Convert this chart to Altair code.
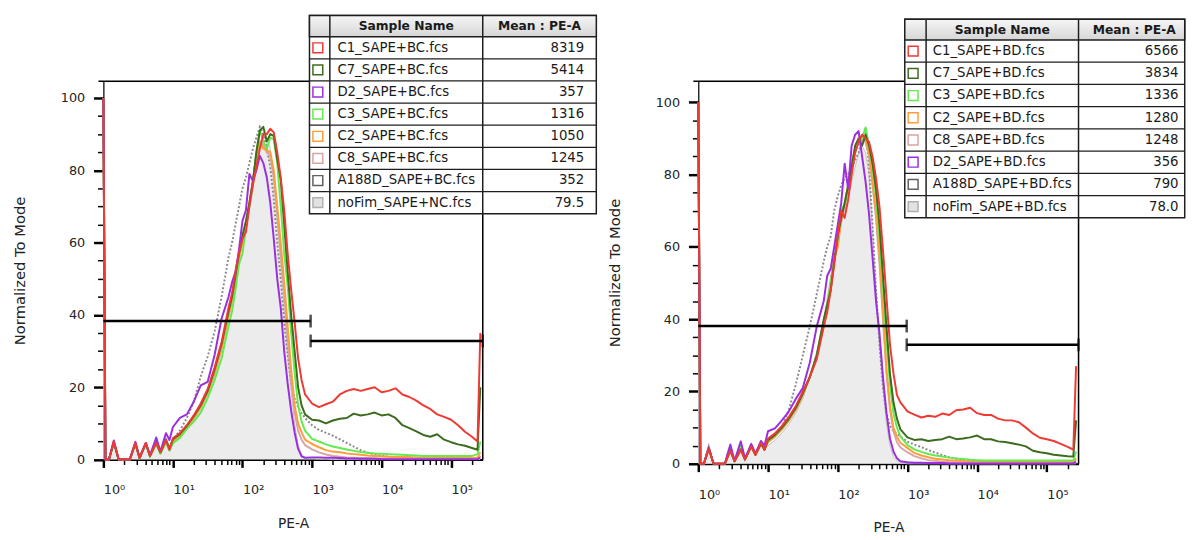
import math
import altair as alt
import pandas as pd

FONT = "DejaVu Sans"

# ---------------- data ----------------
# x positions as log10(PE-A)
GRID = [0.0, 0.03, 0.08, 0.15, 0.22, 0.38, 0.46, 0.52, 0.61, 0.67, 0.76, 0.82, 0.9, 0.95,
        1.0, 1.1, 1.2, 1.3, 1.4, 1.5, 1.6, 1.7, 1.8,
        1.85, 1.9, 1.95, 2.0, 2.05, 2.1, 2.15, 2.2, 2.25, 2.3, 2.35, 2.4, 2.45, 2.5,
        2.55, 2.6, 2.65, 2.7, 2.75, 2.8, 2.85, 2.9,
        3.0, 3.1, 3.2, 3.3, 3.4, 3.5, 3.6, 3.7, 3.8, 3.9, 4.0, 4.1, 4.2, 4.3, 4.4,
        4.5, 4.6, 4.7, 4.8, 4.9, 5.0, 5.1, 5.2, 5.3,
        5.38, 5.42]

# ----- left panel (+BC) -----
BC_C1 = [100, 0, 0, 5.0, 0, 0, 4.6, 0.4, 4.6, 1.0, 4.6, 2.0, 5.4, 2.7,
         5.9, 7.3, 9.5, 12.2, 15.5, 19.5, 25.5, 32.5, 42,
         46, 52, 57, 61, 63, 70, 76, 81, 86, 90, 90, 91.5, 90.5, 85, 78, 69, 57, 47, 38, 28, 22, 18,
         15.5, 14.5, 15.3, 16, 18, 19, 19.5, 19, 19.5, 20, 18.6, 19, 19.7, 18, 17.3, 16.3, 15, 14, 12.5, 11.8, 11, 9.5, 7.7, 6.3,
         5, 35]
BC_C7 = [100, 0, 0, 4.8, 0, 0, 4.5, 0.4, 4.5, 1.0, 4.8, 2.0, 5.5, 3.0,
         5.6, 7, 9.3, 12, 15, 19, 25, 32, 41,
         45, 51, 57, 62, 66, 71, 77, 85, 91, 92, 88, 90, 89.5, 83, 77.5, 65, 52, 40, 30, 20, 15, 12.5,
         11, 10.8, 10, 10.8, 11.3, 11.5, 12.7, 12.2, 12.5, 13, 12.2, 12.5, 11.5, 9.5, 8.7, 7.8, 6.8, 6.3, 7, 5.5, 4.8, 4.2, 3.8, 3.2,
         2.7, 20]
BC_D2 = [100, 0, 0, 5.3, 0, 0, 4.9, 0.5, 4.6, 1.2, 6.1, 2.2, 7.3, 5.4,
         9, 11.5, 12.5, 16, 20.5, 21.5, 29, 39, 45,
         49, 52, 58, 66, 69, 79, 77, 80, 84, 82, 78, 71, 61, 50, 42, 30, 21, 13.5, 7.5, 3, 0.9, 0.5,
         0.6, 0.6, 0.5, 0.5, 0.4, 0.3, 0.3, 0.2, 0.2, 0.2, 0.1, 0.1, 0.1, 0.1, 0.1, 0.1, 0.1, 0.1, 0.1, 0.1, 0.1, 0.1, 0.1, 0.1,
         0.1, 0.5]
BC_C3 = [100, 0, 0, 4.5, 0, 0, 4.3, 0.3, 4.3, 0.8, 4.3, 1.6, 4.8, 2.5,
         4.5, 6, 8.5, 10.5, 13, 17, 22, 28, 37,
         41, 47, 54, 57, 64, 70, 76, 85, 91, 88, 86, 89, 88.6, 82, 70, 57, 48, 35, 24, 15, 10.5, 8,
         5.7, 5, 4.2, 3.6, 3.2, 2.8, 2.4, 2.1, 1.9, 1.7, 1.6, 1.5, 1.4, 1.3, 1.2, 1.1, 1.0, 1.0, 1.0, 1.0, 1.0, 1.0, 1.0, 1.0,
         1.5, 5]
BC_C2 = [100, 0, 0, 4.7, 0, 0, 4.4, 0.4, 4.4, 0.9, 4.4, 1.8, 5.0, 2.6,
         5, 6.5, 9, 11.5, 14.5, 18.5, 24, 31, 40,
         44, 50, 56, 60, 65, 71, 77, 84, 88, 86, 85.5, 85, 80, 70, 60, 49, 37, 25, 15, 10, 7.5, 5.5,
         4.3, 3.4, 2.6, 2.2, 2.0, 1.7, 1.5, 1.3, 1.1, 1.0, 0.9, 0.8, 0.7, 0.7, 0.7, 0.6, 0.6, 0.5, 0.5, 0.5, 0.5, 0.5, 0.5, 0.5,
         0.5, 2]
BC_C8 = [100, 0, 0, 4.7, 0, 0, 4.4, 0.4, 4.4, 0.9, 4.5, 1.8, 5.0, 2.6,
         5, 6.5, 9, 11.5, 14.5, 18.5, 24, 31, 40,
         44, 50, 56, 60, 65, 71, 77, 84, 88, 87, 85, 84, 78, 68, 57, 46, 34, 22, 13, 8, 5.5, 4,
         2.8, 2.0, 1.4, 1.0, 0.8, 0.6, 0.5, 0.4, 0.4, 0.3, 0.3, 0.3, 0.3, 0.3, 0.3, 0.3, 0.3, 0.3, 0.3, 0.3, 0.3, 0.3, 0.3, 0.3,
         0.3, 1]
BC_A188D = [100, 0, 0, 5.0, 0, 0, 4.6, 0.4, 4.6, 1.0, 4.8, 2.0, 5.5, 3.0,
            5.5, 8, 11.5, 16, 23, 28.5, 35.5, 45, 56,
            60, 65, 70, 75, 78, 82, 86, 89, 92, 90, 86, 81, 72, 60, 50, 38, 29, 21, 17, 14.5, 12.8, 11.5,
            9.5, 8.2, 7.4, 6.6, 5.6, 4.6, 3.6, 2.6, 1.9, 1.4, 1.1, 0.8, 0.6, 0.5, 0.4, 0.4, 0.4, 0.3, 0.3, 0.3, 0.3, 0.3, 0.3, 0.3,
            0.3, 1]
BC_NOFIM = [100, 0, 0, 4.5, 0, 0, 4.2, 0.3, 4.2, 0.8, 4.3, 1.6, 4.8, 2.5,
            5, 6.5, 8.5, 11, 14, 18, 23, 30, 40,
            45, 50, 55, 60, 65, 71, 77, 82, 86, 89, 89, 86, 78, 66, 54, 42, 30, 19, 10, 4, 1.5, 0.6,
            0.3, 0.2, 0.1, 0, 0, 0, 0, 0, 0, 0, 0, 0, 0, 0, 0, 0, 0, 0, 0, 0, 0, 0, 0, 0,
            0, 0]

# ----- right panel (+BD) -----
BD_C1 = [100, 0, 0, 4.2, 0, 0, 3.6, 0.7, 3.9, 1.2, 4.8, 2.5, 5.7, 3.9,
         7, 8.4, 10.5, 13, 16, 20, 24, 29, 38,
         42, 48, 55, 63, 70, 68, 73, 80, 86, 89, 91, 90, 89, 85, 79, 71, 59, 46, 33, 25, 19, 17,
         14.5, 13.6, 12.8, 13.3, 13, 13.9, 13.5, 14.8, 15, 15.5, 14, 13.5, 13.5, 12.5, 12, 12, 11.5, 10, 8.4, 7.2, 6.8, 6.3, 5.5, 4.7,
         3.9, 27]
BD_C7 = [100, 0, 0, 4.2, 0, 0, 3.8, 0.7, 4.0, 1.2, 4.8, 2.5, 5.5, 3.9,
         6.5, 8, 10, 12.5, 15.5, 19.5, 24, 30, 40,
         44, 48, 56, 63, 68, 72, 77, 82, 88, 90, 88, 91, 88, 83, 76, 66, 52, 38, 25, 17, 12.5, 9.5,
         7.3, 6.6, 6.8, 6.3, 6.6, 6.8, 7.5, 6.8, 7.0, 7.3, 7.8, 6.8, 6.8, 6.2, 6.0, 5.7, 5.3, 4.8, 3.6, 3.2, 2.9, 2.5, 2.3, 2.1,
         2.0, 12]
BD_C3 = [100, 0, 0, 4.2, 0, 0, 4.8, 0.7, 5.0, 1.2, 4.8, 2.5, 5.7, 3.9,
         6.5, 8, 10, 12.5, 15.5, 19.5, 24, 30, 39,
         44, 50, 56, 62, 70, 72, 76, 82, 87, 89, 90, 93, 88, 82, 74, 63, 49, 34, 22, 14, 10, 7.5,
         5.2, 4.0, 3.3, 2.7, 2.3, 2.0, 1.7, 1.5, 1.3, 1.1, 1.0, 0.9, 0.9, 0.9, 0.9, 0.9, 0.9, 0.9, 0.9, 0.9, 0.9, 0.9, 0.9, 0.9,
         0.9, 3.4]
BD_C2 = [100, 0, 0, 4.2, 0, 0, 3.8, 0.7, 3.9, 1.2, 4.8, 2.5, 5.7, 3.9,
         6, 7.5, 9.5, 12, 15, 19, 24, 30, 38,
         43, 50, 57, 60, 68, 72, 77, 83, 87, 89, 91, 90, 86, 78, 70, 58, 42, 26, 16, 10, 7.5, 5.8,
         4.4, 3.0, 2.3, 1.8, 1.4, 1.2, 1.0, 0.9, 0.8, 0.6, 0.6, 0.5, 0.5, 0.5, 0.5, 0.5, 0.5, 0.5, 0.5, 0.5, 0.5, 0.5, 0.5, 0.5,
         0.5, 1.5]
BD_C8 = [100, 0, 0, 4.2, 0, 0, 3.8, 0.7, 3.9, 1.2, 4.8, 2.5, 5.7, 3.9,
         6, 7.5, 9.5, 12, 15, 19, 24, 30, 38,
         43, 50, 57, 60, 67, 72, 77, 83, 87, 89, 90, 89, 85, 77, 68, 55, 40, 25, 15, 9, 6, 4.5,
         3.2, 2.1, 1.5, 1.0, 0.8, 0.6, 0.4, 0.4, 0.4, 0.4, 0.4, 0.4, 0.4, 0.4, 0.4, 0.4, 0.4, 0.4, 0.4, 0.4, 0.4, 0.4, 0.4, 0.4,
         0.4, 1]
BD_D2 = [100, 0, 0, 4.5, 0, 0, 5.3, 0.8, 6.2, 1.5, 5.5, 2.8, 6.3, 5.0,
         9, 9.8, 12, 14.5, 18, 21, 28, 38, 45,
         52, 54, 60, 66, 72, 83, 76, 88, 91, 92, 85, 78, 69, 57, 45, 36, 24, 14, 7, 3.4, 1.5, 0.7,
         0.4, 0.3, 0.3, 0.2, 0.2, 0.2, 0.1, 0.1, 0.1, 0.1, 0.1, 0.1, 0.1, 0.1, 0.1, 0.1, 0.1, 0.1, 0.1, 0.1, 0.1, 0.1, 0.1, 0.1,
         0.1, 0.5]
BD_A188D = [100, 0, 0, 4.8, 0, 0, 4.5, 0.8, 5.0, 1.3, 5.3, 2.8, 6.0, 4.2,
            6, 8, 10, 15, 22, 30, 38, 47, 56,
            60, 63, 70, 74, 77, 79, 80, 82, 84, 86, 90, 93, 82, 66, 48, 33, 21, 14, 10.5, 9, 8.2, 7.6,
            6.1, 5.3, 4.6, 3.8, 3.1, 2.4, 1.8, 1.4, 1.0, 0.8, 0.6, 0.5, 0.4, 0.4, 0.4, 0.4, 0.4, 0.4, 0.4, 0.4, 0.4, 0.4, 0.4, 0.4,
            0.4, 1]
BD_NOFIM = [100, 0, 0, 4.0, 0, 0, 3.6, 0.6, 3.8, 1.1, 4.6, 2.4, 5.4, 3.8,
            5, 6.5, 8.5, 11, 14, 18, 24, 31, 40,
            46, 52, 57, 62, 66, 70, 74, 78, 82, 86, 88, 86, 80, 64, 48, 33, 21, 11, 5, 2, 0.8, 0.3,
            0, 0, 0, 0, 0, 0, 0, 0, 0, 0, 0, 0, 0, 0, 0, 0, 0, 0, 0, 0, 0, 0, 0, 0,
            0, 0]

# legend tables
BC_KEYS = ["C1", "C7", "D2", "C3", "C2", "C8", "A188D", "noFim"]
BC_SAMPLES = ["C1_SAPE+BC.fcs", "C7_SAPE+BC.fcs", "D2_SAPE+BC.fcs", "C3_SAPE+BC.fcs",
              "C2_SAPE+BC.fcs", "C8_SAPE+BC.fcs", "A188D_SAPE+BC.fcs", "noFim_SAPE+NC.fcs"]
BC_MEANS = ["8319", "5414", "357", "1316", "1050", "1245", "352", "79.5"]

BD_KEYS = ["C1", "C7", "C3", "C2", "C8", "D2", "A188D", "noFim"]
BD_SAMPLES = ["C1_SAPE+BD.fcs", "C7_SAPE+BD.fcs", "C3_SAPE+BD.fcs", "C2_SAPE+BD.fcs",
              "C8_SAPE+BD.fcs", "D2_SAPE+BD.fcs", "A188D_SAPE+BD.fcs", "noFim_SAPE+BD.fcs"]
BD_MEANS = ["6566", "3834", "1336", "1280", "1248", "356", "790", "78.0"]

# gates (log10 start, log10 end, level)
BC_GATE_START = [0.0, 2.98]
BC_GATE_END = [2.98, 5.455]
BC_GATE_LEVEL = [38.3, 32.8]
BD_GATE_START = [0.0, 2.99]
BD_GATE_END = [2.99, 5.455]
BD_GATE_LEVEL = [38.1, 32.9]

# ---------------- styles ----------------
LINE_COLORS = {"C1": "#ee3a32", "C7": "#3c6b1e", "D2": "#9a2ee0", "C3": "#62ea4e",
               "C2": "#ff9d3c", "C8": "#d8a4a4", "A188D": "#8a8a8a", "noFim": "#c4c4c4"}
SWATCH_STROKE = dict(LINE_COLORS, A188D="#606060", noFim="#b0b0b0")
SWATCH_FILL = {k: "white" for k in LINE_COLORS}
SWATCH_FILL["noFim"] = "#e2e2e2"
DRAW_ORDER = ["noFim", "A188D", "C8", "C2", "C3", "C7", "D2", "C1"]

XMAX = 5.455
PX_PER_UNIT = 3.677

for nm, arr in list(globals().items()):
    if (nm.startswith("BC_") or nm.startswith("BD_")) and isinstance(arr, list) and len(arr) > 20:
        if len(arr) != len(GRID):
            raise SystemExit(f"{nm} has {len(arr)} values, expected {len(GRID)}")


def x_axis(W):
    major = "abs(datum.value - round(datum.value)) < 0.001"
    ticks = []
    for d in range(6):
        for k in range(1, 10):
            t = d + math.log10(k)
            if t <= XMAX:
                ticks.append(round(t, 5))
    return alt.Axis(
        values=ticks,
        labelExpr=f"{major} ? '10' + ['⁰','¹','²','³','⁴','⁵'][round(datum.value)] : ''",
        tickSize={"condition": {"test": major, "value": 8}, "value": 5},
        tickWidth={"condition": {"test": major, "value": 2.5}, "value": 1.5},
        tickColor="black", domainColor="black", domainWidth=2,
        labelFont=FONT, labelFontSize=13, labelColor="#222", labelAlign="left",
        labelBaseline="alphabetic", labelPadding=27, labelFlush=False, labelOverlap=False,
        grid=False, title="PE-A", titleFont=FONT, titleFontSize=14, titleFontWeight="normal",
        titleColor="#222", titleX=W / 2, titleY=69, titleAlign="center", titleBaseline="alphabetic",
    )


def y_axis(H):
    major = "datum.value % 20 === 0"
    return alt.Axis(
        values=list(range(0, 101, 5)),
        labelExpr=f"{major} ? datum.label : ''",
        tickSize={"condition": {"test": major, "value": 10}, "value": 6},
        tickWidth={"condition": {"test": major, "value": 2.5}, "value": 1.5},
        tickColor="black", domainColor="black", domainWidth=1.2,
        labelFont=FONT, labelFontSize=13, labelColor="#222", labelPadding=9,
        labelOverlap=False, labelFlush=False, grid=False,
        title="Normalized To Mode", titleFont=FONT, titleFontSize=15, titleFontWeight="normal",
        titleColor="#222", titleX=-80.5, titleY=H / 2, titleAngle=-90, titleAlign="center",
        titleBaseline="alphabetic",
    )


def PX(f):
    return alt.X(f, type="quantitative", scale=None, axis=None)


def PY(f):
    return alt.Y(f, type="quantitative", scale=None, axis=None)


def make_panel(curves, keys, samples, means, g_start, g_end, g_level, geo, W, H):
    ymax = H / PX_PER_UNIT
    X = alt.X("L:Q", scale=alt.Scale(domain=[0, XMAX], nice=False, zero=False), axis=x_axis(W))
    Y = alt.Y("v:Q", scale=alt.Scale(domain=[0, ymax], nice=False, zero=False), axis=y_axis(H))
    layers = []
    for key in DRAW_ORDER:
        df = pd.DataFrame({"L": GRID, "v": curves[key]})
        if key == "noFim":
            layers.append(alt.Chart(df).mark_area(color="#ececec").encode(x=X, y=Y))
            layers.append(alt.Chart(df).mark_line(color=LINE_COLORS[key], strokeWidth=1).encode(x=X, y=Y))
        elif key == "A188D":
            layers.append(alt.Chart(df).mark_line(color=LINE_COLORS[key], strokeWidth=2,
                                                  strokeDash=[2, 2]).encode(x=X, y=Y))
        else:
            layers.append(alt.Chart(df).mark_line(color=LINE_COLORS[key], strokeWidth=2,
                                                  strokeJoin="round").encode(x=X, y=Y))

    # gate bars
    gdf = pd.DataFrame({"L": g_start, "L2": g_end, "v": g_level})
    layers.append(alt.Chart(gdf).mark_rule(color="black", strokeWidth=2.5).encode(
        x=X, x2=alt.X2("L2:Q"), y=Y))
    tick_x = list(g_end) + [s for s in g_start if s > 0]
    tick_y = list(g_level) + [lv for s, lv in zip(g_start, g_level) if s > 0]
    tdf = pd.DataFrame({"L": tick_x, "v": tick_y})
    layers.append(alt.Chart(tdf).mark_tick(orient="vertical", color="black", size=13,
                                           thickness=2.5).encode(x=X, y=Y))

    # plot frame (top and right edges)
    fr = pd.DataFrame({"a": [-5.0, W], "b": [W, W], "c": [0.0, 0.0], "d": [0.0, H]})
    layers.append(alt.Chart(fr).mark_rule(color="black", strokeWidth=1.5).encode(
        x=PX("a"), x2=alt.X2("b"), y=PY("c"), y2=alt.Y2("d")))

    # ---- legend table (pixel layout) ----
    n = len(samples)
    y_bottom = geo["yh"] + geo["rh"] * n
    rows = pd.DataFrame({"i": list(range(n)), "name": samples, "mean": means,
                         "stroke": [SWATCH_STROKE[k] for k in keys],
                         "fill": [SWATCH_FILL[k] for k in keys]})
    rows["yc"] = geo["yh"] + geo["rh"] * (rows["i"] + 0.5)
    rows["ys0"] = rows["yc"] - 5
    rows["ys1"] = rows["yc"] + 5
    rows["xs0"] = geo["x0"] + 3.5
    rows["xs1"] = geo["x0"] + 13.5
    rows["xn"] = geo["name_x"]
    rows["xv"] = geo["val_x"]

    frame = pd.DataFrame({"a": [geo["x0"]], "b": [geo["x1"]], "c": [geo["y0"]], "d": [y_bottom]})
    layers.append(alt.Chart(frame).mark_rect(fill="white", stroke="#1e1e1e", strokeWidth=1.5).encode(
        x=PX("a"), x2=alt.X2("b"), y=PY("c"), y2=alt.Y2("d")))
    head = pd.DataFrame({"a": [geo["x0"]], "b": [geo["x1"]], "c": [geo["y0"]], "d": [geo["yh"]]})
    grad = alt.LinearGradient(gradient="linear", x1=0, x2=0, y1=0, y2=1,
                              stops=[alt.GradientStop(color="#f6f6f6", offset=0),
                                     alt.GradientStop(color="#d6d6d6", offset=1)])
    layers.append(alt.Chart(head).mark_rect(fill=grad, stroke="#1e1e1e", strokeWidth=1.5).encode(
        x=PX("a"), x2=alt.X2("b"), y=PY("c"), y2=alt.Y2("d")))
    hl = pd.DataFrame({"a": [geo["x0"]] * (n - 1), "b": [geo["x1"]] * (n - 1),
                       "c": [geo["yh"] + geo["rh"] * k for k in range(1, n)]})
    layers.append(alt.Chart(hl).mark_rule(color="#1e1e1e", strokeWidth=1.3).encode(
        x=PX("a"), x2=alt.X2("b"), y=PY("c")))
    vl = pd.DataFrame({"a": [geo["xc1"], geo["xc2"]], "c": [geo["y0"]] * 2, "d": [y_bottom] * 2})
    layers.append(alt.Chart(vl).mark_rule(color="#1e1e1e", strokeWidth=1.5).encode(
        x=PX("a"), y=PY("c"), y2=alt.Y2("d")))
    layers.append(alt.Chart(rows).mark_rect(strokeWidth=1.5).encode(
        x=PX("xs0"), x2=alt.X2("xs1"), y=PY("ys0"), y2=alt.Y2("ys1"),
        fill=alt.Fill("fill:N", scale=None), stroke=alt.Stroke("stroke:N", scale=None)))
    layers.append(alt.Chart(rows).mark_text(align="left", baseline="middle", font=FONT,
                                            fontSize=13.5, color="#1a1a1a").encode(
        x=PX("xn"), y=PY("yc"), text="name:N"))
    layers.append(alt.Chart(rows).mark_text(align="right", baseline="middle", font=FONT,
                                            fontSize=13.5, color="#1a1a1a").encode(
        x=PX("xv"), y=PY("yc"), text="mean:N"))
    hdr = pd.DataFrame({"t": ["Sample Name", "Mean : PE-A"],
                        "x": [(geo["xc1"] + geo["xc2"]) / 2, geo["hdr_val_cx"]],
                        "y": [(geo["y0"] + geo["yh"]) / 2] * 2})
    layers.append(alt.Chart(hdr).mark_text(align="center", baseline="middle", font=FONT,
                                           fontSize=12.5, fontWeight="bold", color="#1a1a1a").encode(
        x=PX("x"), y=PY("y"), text="t:N"))

    return alt.layer(*layers).properties(width=W, height=H)


W_L, W_R = 385.8, 386.7
H_L, H_R = 384.7, 389.0
GEO_L = dict(x0=209.6, xc1=230.3, xc2=W_L, x1=501.3, y0=-67.0, yh=-45.3, rh=22.5,
             name_x=238.0, val_x=489.0, hdr_val_cx=443.5)
GEO_R = dict(x0=210.0, xc1=231.7, xc2=W_R, x1=494.7, y0=-63.0, yh=-42.0, rh=22.6,
             name_x=238.4, val_x=488.4, hdr_val_cx=443.4)

left = make_panel({"C1": BC_C1, "C7": BC_C7, "D2": BC_D2, "C3": BC_C3, "C2": BC_C2, "C8": BC_C8,
                   "A188D": BC_A188D, "noFim": BC_NOFIM},
                  BC_KEYS, BC_SAMPLES, BC_MEANS, BC_GATE_START, BC_GATE_END, BC_GATE_LEVEL,
                  GEO_L, W_L, H_L)
right = make_panel({"C1": BD_C1, "C7": BD_C7, "D2": BD_D2, "C3": BD_C3, "C2": BD_C2, "C8": BD_C8,
                    "A188D": BD_A188D, "noFim": BD_NOFIM},
                   BD_KEYS, BD_SAMPLES, BD_MEANS, BD_GATE_START, BD_GATE_END, BD_GATE_LEVEL,
                   GEO_R, W_R, H_R)

chart = alt.hconcat(left, right, spacing=9).properties(
    padding={"left": 3, "top": 1, "right": 0, "bottom": 0},
    background="white",
).configure_view(stroke=None).configure(font=FONT)

chart.save("out.html", embed_options={"renderer": "svg", "actions": False})
